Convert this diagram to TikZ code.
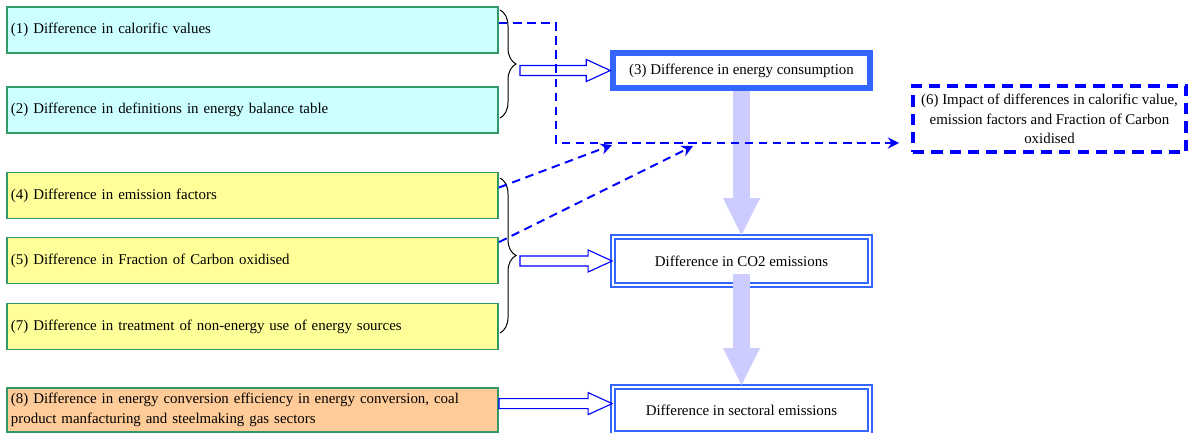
\documentclass[tikz,border=0pt]{standalone}
\usepackage{fontspec}
\setmainfont{Liberation Serif}
\usetikzlibrary{arrows.meta, positioning, calc, decorations.pathreplacing}

\definecolor{boxgreen}{HTML}{339966}
\definecolor{cyanfill}{HTML}{CCFFFF}
\definecolor{yellowfill}{HTML}{FFFF99}
\definecolor{orangefill}{HTML}{FFCC99}
\definecolor{bordblue}{HTML}{3366FF}
\definecolor{dashblue}{HTML}{0000FF}
\definecolor{lav}{HTML}{CCCCFF}

% hollow block arrow between two points
\newcommand{\hollowarrow}[2]{%
  \draw[hollow] let \p1=(#1), \p2=(#2) in
    (\x1,{\y1+0.125cm}) -- ({\x2-0.6cm},{\y2+0.125cm}) -- ({\x2-0.6cm},{\y2+0.275cm})
    -- (\x2,\y2) -- ({\x2-0.6cm},{\y2-0.275cm}) -- ({\x2-0.6cm},{\y2-0.125cm})
    -- (\x1,{\y1-0.125cm}) -- cycle;}

\begin{document}
\begin{tikzpicture}[
    x=0.025cm, y=-0.025cm,
    every node/.style={font=\fontsize{10.6}{14}\selectfont},
    leftbox/.style={draw=boxgreen, line width=1.4pt, minimum height=1.15cm,
        text width=12.075cm, inner xsep=0.1cm, align=left},
    rightbox/.style={draw=bordblue, minimum width=6.425cm, align=center},
    doublebox/.style={rightbox, double, line width=1.2pt, double distance=1.3pt},
    dashconn/.style={draw=dashblue, line width=1.4pt, dash pattern=on 6pt off 4pt,
        -{Stealth[length=8pt, width=8pt]}},
    hollow/.style={draw=dashblue, line width=0.8pt, fill=white},
    bigarrow/.style={draw=lav, line width=0.425cm, -{Triangle[length=0.95cm, width=0.85cm]}},
    bracestyle/.style={draw=black, line width=0.7pt, decorate,
        decoration={brace, amplitude=0.4cm}}
]
\useasboundingbox (0,0) rectangle (1189,433);

% left boxes
\node[leftbox, fill=cyanfill] (calo) at (252.5,30) {(1) Difference in calorific values};
\node[leftbox, fill=cyanfill] (defin) at (252.5,110) {(2) Difference in definitions in energy balance table};
\node[leftbox, fill=yellowfill] (emis) at (252.5,195.5) {(4) Difference in emission factors};
\node[leftbox, fill=yellowfill] (fraction) at (252.5,260.5) {(5) Difference in Fraction of Carbon oxidised};
\node[leftbox, fill=yellowfill] (nonenergy) at (252.5,326.5) {(7) Difference in treatment of non-energy use of energy sources};
\node[leftbox, fill=orangefill, minimum height=1.1cm] (effic) at (252.5,410)
    {(8) Difference in energy conversion efficiency in energy conversion, coal\\product manfacturing and steelmaking gas sectors};

% right boxes
\node[rightbox, line width=3.8pt, minimum height=0.875cm] (energy) at (741.5,70.5) {(3) Difference in energy consumption};
\node[doublebox, minimum height=1.2cm] (co2) at (741.5,261) {Difference in CO2 emissions};
\node[doublebox, minimum height=1.15cm] (sector) at (741.5,410) {Difference in sectoral emissions};
\node[draw=dashblue, line width=2.6pt, dash pattern=on 8pt off 5pt, minimum width=6.825cm,
    minimum height=1.65cm, align=center, inner sep=1pt] (impact) at (1049.5,119)
    {(6) Impact of differences in calorific value,\\emission factors and Fraction of Carbon\\oxidised};

% braces
\draw[bracestyle] (500,10) -- (500,118) coordinate[midway, xshift=0.5cm] (tipone);
\draw[bracestyle] (500,178) -- (500,333) coordinate[midway, xshift=0.5cm] (tiptwo);

% big arrows
\draw[bigarrow] (energy.south) -- (co2.north);
\draw[bigarrow] ([yshift=0.3cm]co2.south) -- (sector.north);

% hollow arrows
\hollowarrow{tipone |- energy.west}{energy.west}
\hollowarrow{tiptwo |- co2.west}{co2.west}
\hollowarrow{[yshift=0.16cm]effic.east}{[yshift=0.16cm]sector.west}

% dashed connectors
\coordinate (bend) at (556,143);
\coordinate (tipa) at (612,145);
\coordinate (tipb) at (693,146);
\draw[dashconn, shorten >=0.3cm] ([yshift=0.175cm]calo.east) -| (bend) -- (bend -| impact.west);
\draw[dashconn] ([yshift=0.2cm]emis.east) -- (tipa);
\draw[dashconn] ([yshift=0.46cm]fraction.east) -- (tipb);

\end{tikzpicture}
\end{document}
